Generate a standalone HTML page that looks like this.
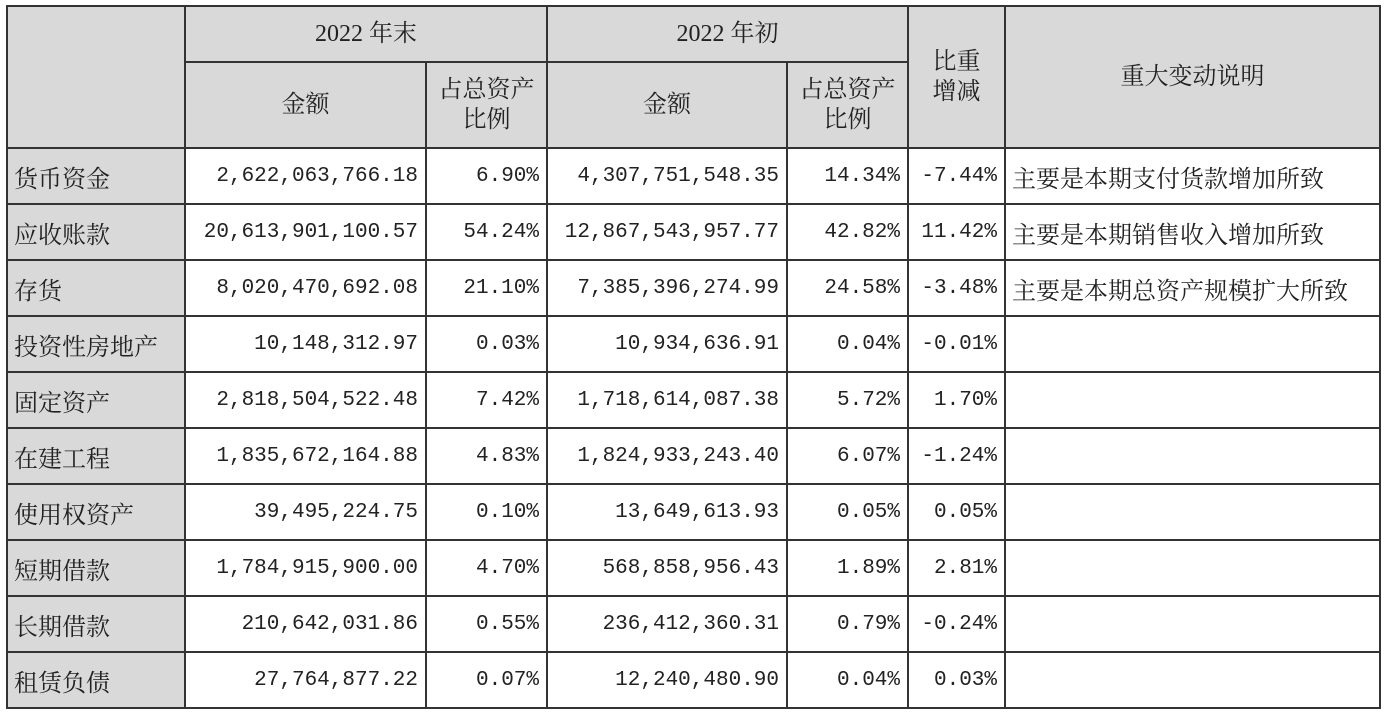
<!DOCTYPE html>
<html><head><meta charset="utf-8"><style>
html,body{margin:0;padding:0;background:#fff;width:1386px;height:714px;overflow:hidden}
table{position:absolute;left:6px;top:5px;border-collapse:collapse;table-layout:fixed;width:1373px;height:701px;font-family:"Liberation Serif","Noto Serif CJK SC",serif;color:#222;font-size:24px}
td{border:2px solid #333;padding:0 8px;white-space:nowrap;overflow:hidden}
.h{background:#d9d9d9;text-align:center;line-height:30px}
.l{background:#d9d9d9;text-align:left;padding-left:6px}
.n{text-align:right;font-family:"Liberation Mono","Noto Serif CJK SC",monospace;font-size:21px;padding-right:7px}
.t{text-align:left;padding-left:6px}
</style></head><body>
<table>
<colgroup><col style="width:178px"><col style="width:241px"><col style="width:121px"><col style="width:240px"><col style="width:121px"><col style="width:97px"><col style="width:375px"></colgroup>
<tr style="height:56px">
<td class="h" rowspan="2"></td>
<td class="h" colspan="2">2022 年末</td>
<td class="h" colspan="2">2022 年初</td>
<td class="h" rowspan="2" style="white-space:normal;padding:0 12px">比重增减</td>
<td class="h" rowspan="2">重大变动说明</td>
</tr>
<tr style="height:86px">
<td class="h">金额</td>
<td class="h" style="white-space:normal;padding:0 4px">占总资产比例</td>
<td class="h">金额</td>
<td class="h" style="white-space:normal;padding:0 4px">占总资产比例</td>
</tr>
<tbody id="body"></tbody>
</table>
<script>
const items=["货币资金","应收账款","存货","投资性房地产","固定资产","在建工程","使用权资产","短期借款","长期借款","租赁负债"];
const amountEnd=["2,622,063,766.18","20,613,901,100.57","8,020,470,692.08","10,148,312.97","2,818,504,522.48","1,835,672,164.88","39,495,224.75","1,784,915,900.00","210,642,031.86","27,764,877.22"];
const pctEnd=["6.90%","54.24%","21.10%","0.03%","7.42%","4.83%","0.10%","4.70%","0.55%","0.07%"];
const amountStart=["4,307,751,548.35","12,867,543,957.77","7,385,396,274.99","10,934,636.91","1,718,614,087.38","1,824,933,243.40","13,649,613.93","568,858,956.43","236,412,360.31","12,240,480.90"];
const pctStart=["14.34%","42.82%","24.58%","0.04%","5.72%","6.07%","0.05%","1.89%","0.79%","0.04%"];
const change=["-7.44%","11.42%","-3.48%","-0.01%","1.70%","-1.24%","0.05%","2.81%","-0.24%","0.03%"];
const notes=["主要是本期支付货款增加所致","主要是本期销售收入增加所致","主要是本期总资产规模扩大所致","","","","","","",""];
const body=document.getElementById('body');
for(let i=0;i<items.length;i++){
  const tr=document.createElement('tr');
  tr.style.height='56px';
  
  
  const vals=[[items[i],'l'],[amountEnd[i],'n'],[pctEnd[i],'n'],[amountStart[i],'n'],[pctStart[i],'n'],[change[i],'n'],[notes[i],'t']];
  const names=['item-name','amount-end','pct-end','amount-start','pct-start','ratio-change','explanation'];
  vals.forEach((v,j)=>{
    const td=document.createElement('td');
    td.className=v[1];
    td.textContent=v[0];
    
    
    tr.appendChild(td);
  });
  body.appendChild(tr);
}
</script>
</body></html>
